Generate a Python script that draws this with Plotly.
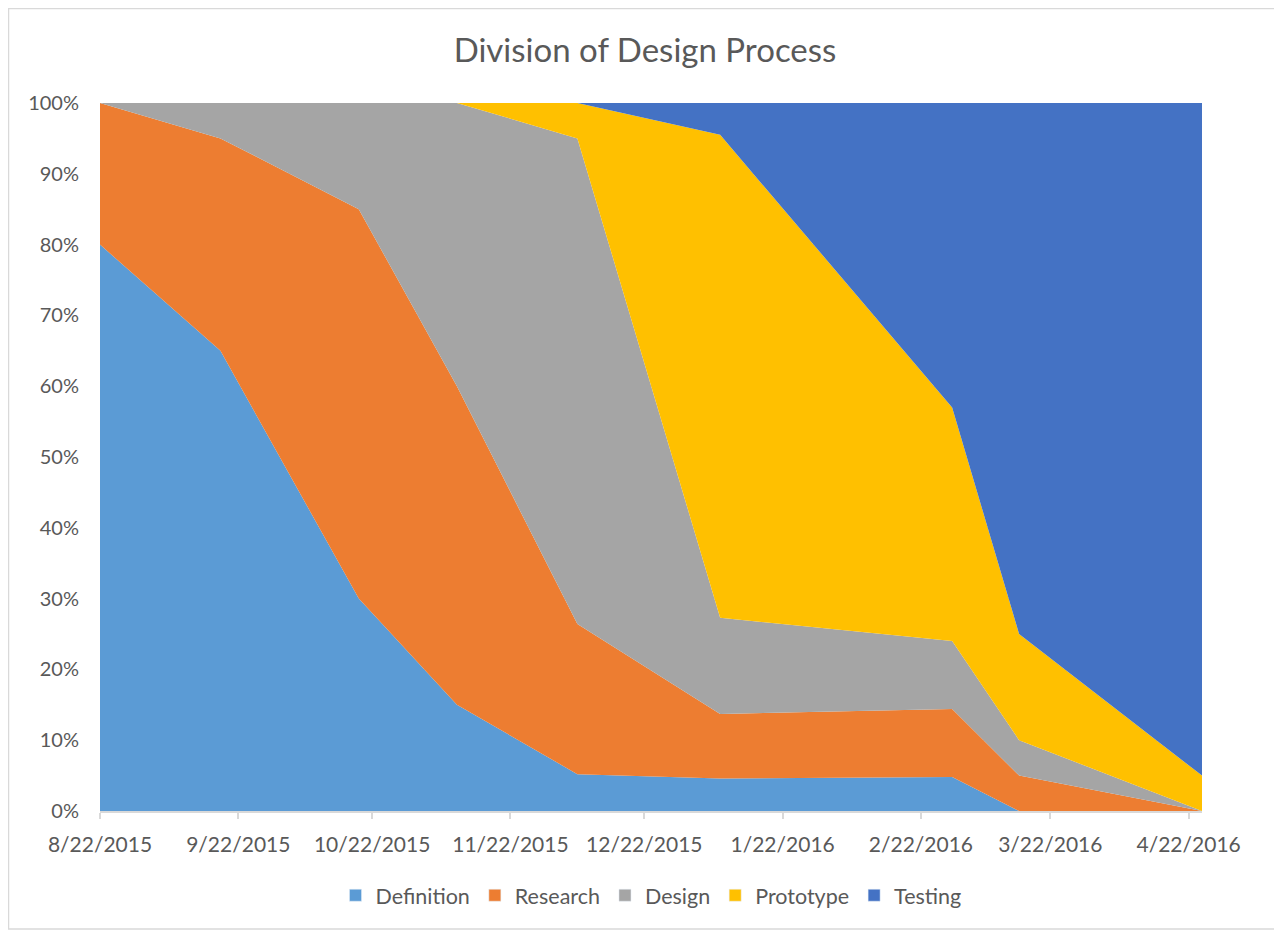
import plotly.graph_objects as go

# dates of the data points
dates = ['2015-08-22', '2015-09-18', '2015-10-19', '2015-11-10', '2015-12-07',
         '2016-01-08', '2016-02-29', '2016-03-15', '2016-04-25']

# share of each phase, in %
definition = [80, 65, 30, 15, 5.2, 4.6, 4.8, 0, 0]
research = [20, 30, 55, 45, 21.2, 9.1, 9.6, 5, 0]
design = [0, 5, 15, 40, 68.6, 13.6, 9.6, 5, 0]
prototype = [0, 0, 0, 0, 5, 68.2, 33, 15, 5]
testing = [0, 0, 0, 0, 0, 4.5, 43, 75, 95]

tick_dates = ['2015-08-22', '2015-09-22', '2015-10-22', '2015-11-22', '2015-12-22',
              '2016-01-22', '2016-02-22', '2016-03-22', '2016-04-22']
tick_labels = ['8/22/2015', '9/22/2015', '10/22/2015', '11/22/2015', '12/22/2015',
               '1/22/2016', '2/22/2016', '3/22/2016', '4/22/2016']

noms = ['Definition', 'Research', 'Design', 'Prototype', 'Testing']
series = [definition, research, design, prototype, testing]
couleurs = ['#5B9BD5', '#ED7D31', '#A5A5A5', '#FFC000', '#4472C4']

texte = '#595959'
grille = '#D9D9D9'

fig = go.Figure()
for nom, vals, c in zip(noms, series, couleurs):
    fig.add_trace(go.Scatter(x=dates, y=vals, name=nom, mode='lines',
                             stackgroup='one', groupnorm='percent',
                             line=dict(width=0, color=c), fillcolor=c,
                             showlegend=False))

# carrés de légende (comme dans Excel)
for nom, c in zip(noms, couleurs):
    fig.add_trace(go.Bar(x=[None], y=[None], name=nom, marker_color=c,
                         showlegend=True))

# la page a une marge de 8 px : la figure commence à (8, 8)
W, H = 1274, 922
fig.update_layout(
    width=W, height=H,
    margin=dict(l=92, r=80, t=95, b=119),
    paper_bgcolor='white', plot_bgcolor='white',
    font=dict(family='Lato, Open Sans, sans-serif', size=20, color=texte),
    title=dict(text='Division of Design Process', x=0.5, xanchor='center',
               y=1 - 42 / H, yanchor='middle',
               font=dict(size=33, color=texte)),
    showlegend=True,
    legend=dict(orientation='h', x=0.5, xanchor='center', y=-0.119, yanchor='middle',
                traceorder='normal', font=dict(size=21.5, color=texte)),
    xaxis=dict(type='date', range=['2015-08-22', '2016-04-25'],
               tickvals=tick_dates, ticktext=tick_labels,
               showgrid=False, showline=True, linecolor=grille, linewidth=2,
               ticks='outside', ticklen=6, tickcolor=grille, tickwidth=2,
               ticklabelstandoff=8,
               tickfont=dict(size=21, color=texte)),
    yaxis=dict(range=[0, 100], dtick=10, ticksuffix='%',
               showgrid=True, gridcolor=grille, zeroline=False,
               ticklabelstandoff=20,
               tickfont=dict(size=20, color=texte)),
)

# cadre autour du graphique
fig.add_shape(type='rect', xref='paper', yref='paper',
              x0=(0.5 - 92) / 1102, x1=(1273 - 92) / 1102,
              y0=(803 - 921) / 708, y1=(803 - 0.5) / 708,
              line=dict(color=grille, width=1.5), layer='below')

fig.write_html("out.html")
